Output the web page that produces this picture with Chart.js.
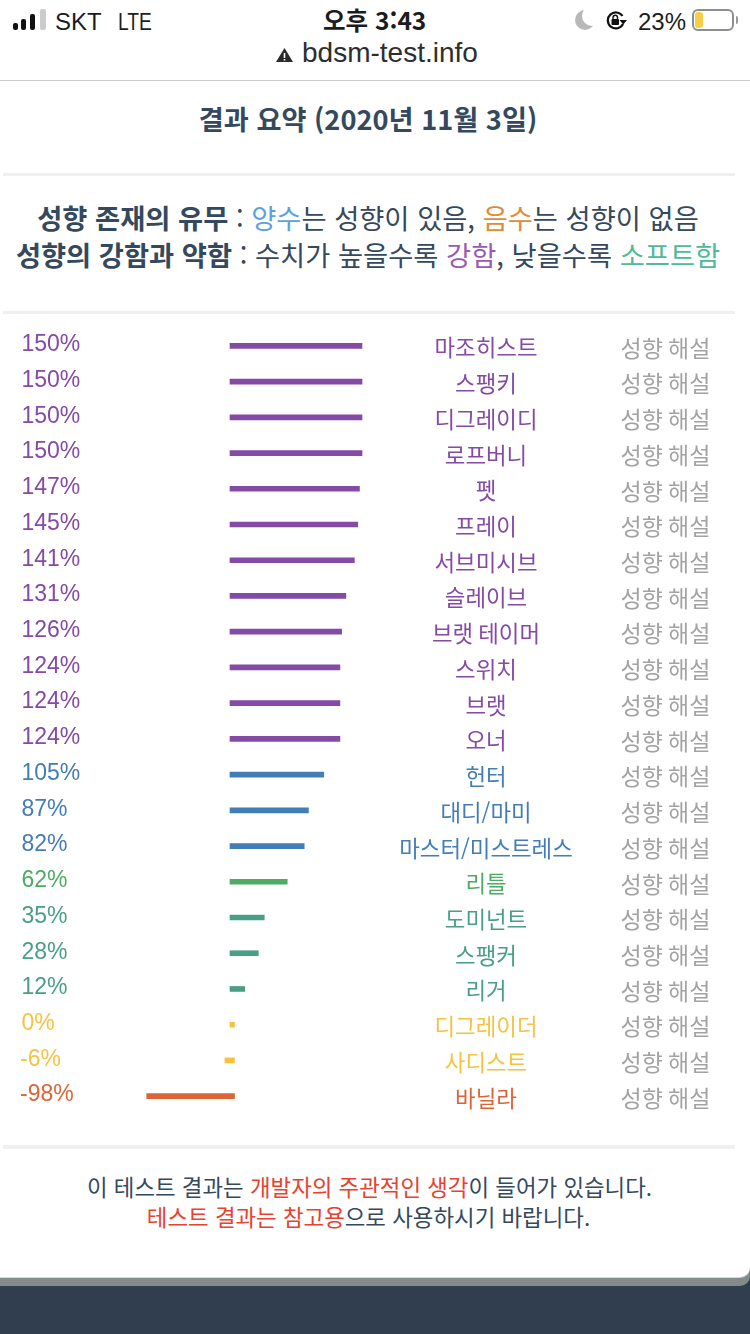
<!DOCTYPE html>
<html lang="ko">
<head>
<meta charset="utf-8">
<title>결과 요약</title>
<script src="https://cdn.jsdelivr.net/npm/chart.js@4"></script>
<style>
  html, body { margin: 0; padding: 0; background: #fff; }
  body { width: 750px; height: 1334px; position: relative; overflow: hidden;
         font-family: "Noto Sans CJK KR", "Noto Sans", sans-serif; color: #34495e; }
  .t { position: absolute; white-space: nowrap; line-height: 1; }
  .c { left: 0; width: 736px; text-align: center; }
  .rule { position: absolute; left: 3px; width: 732px; height: 3px; background: #eff1f1; }
  .status { font-family: "Liberation Sans", "Noto Sans CJK KR", sans-serif; color: #1c1c1e; font-size: 24px; }
  .sig { position: absolute; top: auto; bottom: 1304px; width: 5px; background: #111; border-radius: 2px; }
  #chart { position: absolute; left: 0; top: 328px; }
  .blue { color: #5aa2dd; } .orange { color: #e08b38; } .purple { color: #9b59b6; } .teal { color: #4fba95; }
  .red { color: #e8412f; }
  b { font-weight: 700; }
</style>
</head>
<body>
  <!-- status bar -->
  <div class="sig" style="left:13px;height:7px"></div>
  <div class="sig" style="left:21px;height:11px"></div>
  <div class="sig" style="left:30px;height:16px"></div>
  <div class="sig" style="left:40px;height:21px;width:6px;background:#ccc"></div>
  <div class="t status" style="left:55px;top:10px">SKT</div>
  <div class="t status" style="left:118px;top:10px;transform:scaleX(.8);transform-origin:left">LTE</div>
  <div class="t status" style="left:323px;top:8px;font-weight:700;font-family:'Noto Sans CJK KR';font-size:24.5px">오후 3:43</div>
  <div style="position:absolute;left:575px;top:10px;width:20px;height:20px;border-radius:50%;box-shadow:inset 7px -4px 0 0 #b8b8b8"></div>
  <svg style="position:absolute;left:606px;top:11px" width="22" height="19" viewBox="0 0 22 19">
    <path d="M16.5 5 A8 8 0 1 0 17 13" fill="none" stroke="#111" stroke-width="2.2"/>
    <path d="M13.5 9 L21 9 L17.3 13.5 Z" fill="#111"/>
    <rect x="5.5" y="8" width="7.5" height="6" rx="1" fill="#111"/>
    <path d="M7 8.5 V6.5 A2.2 2.2 0 0 1 11.5 6.5 V8.5" fill="none" stroke="#111" stroke-width="1.4"/>
  </svg>
  <div class="t status" style="left:638px;top:10px">23%</div>
  <div style="position:absolute;left:692px;top:9px;width:38px;height:18px;border:2px solid #8e8e8e;border-radius:6px"></div>
  <div style="position:absolute;left:695px;top:12px;width:8px;height:16px;background:#f7cf46;border-radius:3px"></div>
  <div style="position:absolute;left:736px;top:16px;width:2px;height:8px;background:#999;border-radius:0 2px 2px 0"></div>
  <svg style="position:absolute;left:276px;top:48px" width="17" height="14" viewBox="0 0 17 14">
    <path d="M8.5 0 L17 14 L0 14 Z" fill="#2b2b2b"/>
    <rect x="7.7" y="5" width="1.6" height="5" fill="#fff"/>
    <rect x="7.7" y="11" width="1.6" height="1.6" fill="#fff"/>
  </svg>
  <div class="t status" style="left:302px;top:39px;font-size:28px;color:#2e2e2e">bdsm-test.info</div>
  <div style="position:absolute;left:0;top:80px;width:750px;height:1px;background:#ccc"></div>

  <!-- heading -->
  <div class="t c" style="top:105px;font-size:27.2px;font-weight:700">결과 요약 (2020년 11월 3일)</div>
  <div class="rule" style="top:173px"></div>
  <div class="t c" style="top:204px;font-size:27.3px"><b>성향 존재의 유무</b> : <span class="blue">양수</span>는 성향이 있음, <span class="orange">음수</span>는 성향이 없음</div>
  <div class="t c" style="top:241px;font-size:27.3px"><b>성향의 강함과 약함</b> : 수치가 높을수록 <span class="purple">강함</span>, 낮을수록 <span class="teal">소프트함</span></div>
  <div class="rule" style="top:311px"></div>

  <canvas id="chart" width="750" height="786"></canvas>

  <!-- footer -->
  <div class="rule" style="top:1145px;height:4px"></div>
  <div class="t" style="left:0;width:739px;text-align:center;top:1175px;font-size:22.4px">이 테스트 결과는 <span class="red">개발자의 주관적인 생각</span>이 들어가 있습니다.</div>
  <div class="t" style="left:0;width:737px;text-align:center;top:1205px;font-size:22.4px"><span class="red">테스트 결과는 참고용</span>으로 사용하시기 바랍니다.</div>
  <div style="position:absolute;left:0;top:1276px;width:750px;height:58px;background:#303e50"></div>
  <div style="position:absolute;left:0;top:1260px;width:750px;height:26px;background:#838b8b;border-radius:0 0 10px 0"></div>
  <div style="position:absolute;left:0;top:1250px;width:750px;height:27px;background:#fff;border-radius:0 0 10px 0;box-shadow:0 1px 0 #d5d8d8"></div>

<script>
const tendencies = ['마조히스트', '스팽키', '디그레이디', '로프버니', '펫', '프레이', '서브미시브', '슬레이브', '브랫 테이머', '스위치', '브랫', '오너', '헌터', '대디/마미', '마스터/미스트레스', '리틀', '도미넌트', '스팽커', '리거', '디그레이더', '사디스트', '바닐라'];
const percents = [150, 150, 150, 150, 147, 145, 141, 131, 126, 124, 124, 124, 105, 87, 82, 62, 35, 28, 12, 0, -6, -98];
const linkText = '성향 해설';

// the page gives every bar a small stub, so 0% still shows
const stub = 5.3;

function colorFor(v) {
  if (v >= 110) return '#8549a6';
  if (v >= 70) return '#437db8';
  if (v >= 50) return '#4faa64';
  if (v > 0) return '#499f86';
  if (v > -50) return '#f5c342';
  return '#dd6436';
}

const rowLabels = {
  id: 'rowLabels',
  afterDatasetsDraw(chart) {
    const { ctx, scales: { y } } = chart;
    ctx.save();
    ctx.textBaseline = 'middle';
    percents.forEach((v, i) => {
      const py = y.getPixelForValue(i);
      ctx.fillStyle = colorFor(v);
      ctx.textAlign = 'left';
      ctx.font = '23px "Liberation Sans"';
      ctx.fillText(v + '%', v < 0 ? 20 : 21.5, py - 1);
      ctx.textAlign = 'center';
      ctx.font = '22.4px "Noto Sans CJK KR"';
      ctx.fillText(tendencies[i], 486, py + 2);
      ctx.fillStyle = '#a3a3a3';
      ctx.font = '23px "Noto Sans CJK KR"';
      ctx.fillText(linkText, 665.5, py + 2);
    });
    ctx.restore();
  }
};

new Chart(document.getElementById('chart').getContext('2d'), {
  type: 'bar',
  data: {
    labels: tendencies,
    datasets: [{
      data: percents.map(v => v < 0 ? [v, stub] : [0, v + stub]),
      backgroundColor: percents.map(colorFor),
      barThickness: 5,
      borderSkipped: false
    }]
  },
  options: {
    indexAxis: 'y',
    responsive: false,
    animation: false,
    layout: { padding: 0 },
    plugins: { legend: { display: false }, tooltip: { enabled: false } },
    scales: {
      // 0.85 px per percent, zero at x = 230
      x: { display: false, min: -230 / 0.85, max: 520 / 0.85 },
      y: { display: false }
    }
  },
  plugins: [rowLabels]
});
</script>
</body>
</html>
